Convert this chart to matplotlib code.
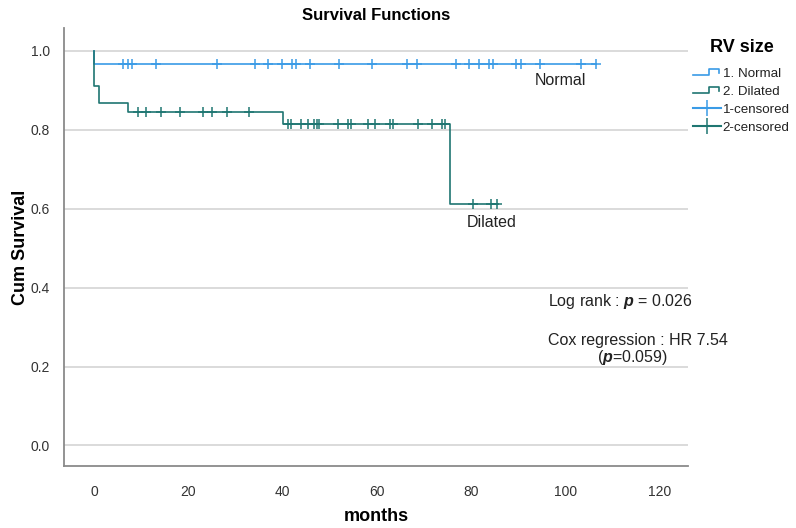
import matplotlib
matplotlib.use("Agg")
import matplotlib.pyplot as plt
from matplotlib.lines import Line2D
from matplotlib.legend_handler import HandlerBase

plt.rcParams['font.family'] = ['Liberation Sans', 'DejaVu Sans']
plt.rcParams['mathtext.fontset'] = 'custom'
plt.rcParams['mathtext.it'] = 'Liberation Sans:italic:bold'
plt.rcParams['mathtext.rm'] = 'Liberation Sans'

# Kaplan-Meier steps (time, survival after the step)
normal_times = [0, 106.5]
normal_surv = [0.967, 0.967]
normal_censor = [6.2, 7.1, 8.1, 13.1, 26.1, 34.1, 36.8, 39.8, 41.9, 42.8, 45.9,
                 51.9, 58.9, 66.4, 68.6, 76.7, 79.5, 81.6, 83.8, 84.7, 89.5,
                 90.5, 94.6, 103.4, 106.4]

dilated_times = [0, 1.1, 7.1, 40.0, 75.5, 85.7]
dilated_surv = [0.910, 0.867, 0.845, 0.814, 0.611, 0.611]
dilated_censor_a = [9.2, 11.0, 14.2, 18.2, 23.0, 24.9, 28.1, 32.9]
dilated_censor_b = [41.1, 41.8, 43.9, 45.4, 46.6, 47.2, 47.8, 51.8, 53.8, 54.6,
                    58.0, 59.6, 62.7, 63.4, 68.7, 71.6, 73.7, 74.4]
dilated_censor_c = [80.4, 84.3, 85.4]

blue = '#3a9be6'
teal = '#1f7672'


def surv_at(times, surv, t):
    s = 1.0
    for tt, ss in zip(times, surv):
        if tt <= t:
            s = ss
    return s


class StepHandler(HandlerBase):
    def create_artists(self, legend, orig_handle, xdescent, ydescent,
                       width, height, fontsize, trans):
        x0, x1 = -xdescent, -xdescent + width
        yl, yh = -ydescent + 0.15 * height, -ydescent + 0.8 * height
        xs = [x0, x0 + 0.55 * width, x0 + 0.55 * width, x1 - 0.1 * width, x1 - 0.1 * width]
        ys = [yl, yl, yh, yh, yl + 0.3 * height]
        ln = Line2D(xs, ys, color=orig_handle.get_color(), lw=1.2, transform=trans)
        return [ln]


fig = plt.figure(figsize=(7.96, 5.28), dpi=100)
ax = fig.add_axes([64 / 796, 1 - 466 / 528, 624 / 796, 438 / 528])

ax.set_xlim(-6.4, 126)
ax.set_ylim(-0.052, 1.058)

for y in [0.0, 0.2, 0.4, 0.6, 0.8, 1.0]:
    ax.axhline(y, color='#d4d4d4', lw=1.2, zorder=0)

# step curves
ax.step([0] + normal_times, [1.0] + normal_surv, where='post', color=blue, lw=1.2)
ax.step([0] + dilated_times, [1.0] + dilated_surv, where='post', color=teal, lw=1.2)

# censor marks
ax.plot(normal_censor, [surv_at(normal_times, normal_surv, t) for t in normal_censor],
        ls='none', marker='+', ms=7, mew=1.1, color=blue)
dil_c = dilated_censor_a + dilated_censor_b + dilated_censor_c
ax.plot(dil_c, [surv_at(dilated_times, dilated_surv, t) for t in dil_c],
        ls='none', marker='+', ms=7, mew=1.1, color=teal)

ax.set_xticks([0, 20, 40, 60, 80, 100, 120])
ax.set_yticks([0.0, 0.2, 0.4, 0.6, 0.8, 1.0])
ax.set_yticklabels(['0.0', '0.2', '0.4', '0.6', '0.8', '1.0'])
ax.tick_params(length=0, labelsize=10, colors='#333333', pad=10)
ax.tick_params(axis='x', pad=14)

for s in ['top', 'right']:
    ax.spines[s].set_visible(False)
for s in ['left', 'bottom']:
    ax.spines[s].set_color('#8a8a8a')
    ax.spines[s].set_linewidth(1.3)

ax.set_xlabel('months', fontsize=13, fontweight='bold', labelpad=6)
ax.set_ylabel('Cum Survival', fontsize=13, fontweight='bold', labelpad=1)
ax.set_title('Survival Functions', fontsize=12, fontweight='bold', pad=6)

ax.text(99, 0.925, 'Normal', fontsize=11.5, color='#222222', ha='center', va='center')
ax.text(84.3, 0.566, 'Dilated', fontsize=11.5, color='#222222', ha='center', va='center')

ax.text(96.3, 0.364, 'Log rank : $\\it{p}$ = 0.026', fontsize=11.5, color='#222222', va='center')
ax.text(96.3, 0.267, 'Cox regression : HR 7.54', fontsize=11.5, color='#222222', va='center')
ax.text(106.6, 0.224, '($\\it{p}$=0.059)', fontsize=11.5, color='#222222', va='center')

handles = [Line2D([], [], color=blue), Line2D([], [], color=teal),
           Line2D([], [], color=blue, marker='+', ms=12, mew=1.1),
           Line2D([], [], color=teal, marker='+', ms=12, mew=1.1)]
labels = ['1. Normal', '2. Dilated', '1-censored', '2-censored']
leg = fig.legend(handles, labels, loc='upper left', bbox_to_anchor=(684 / 796, 1 - 30 / 528),
                 frameon=False, title='RV size', fontsize=9.6, handlelength=2.1,
                 handletextpad=0.1, labelspacing=0.42, borderpad=0.2,
                 handler_map={handles[0]: StepHandler(), handles[1]: StepHandler()})
leg.get_title().set_fontweight('bold')
leg.get_title().set_fontsize(13)
leg._legend_box.sep = 8
for t in leg.get_texts():
    t.set_color('#222222')

fig.savefig('out.png', dpi=100)
